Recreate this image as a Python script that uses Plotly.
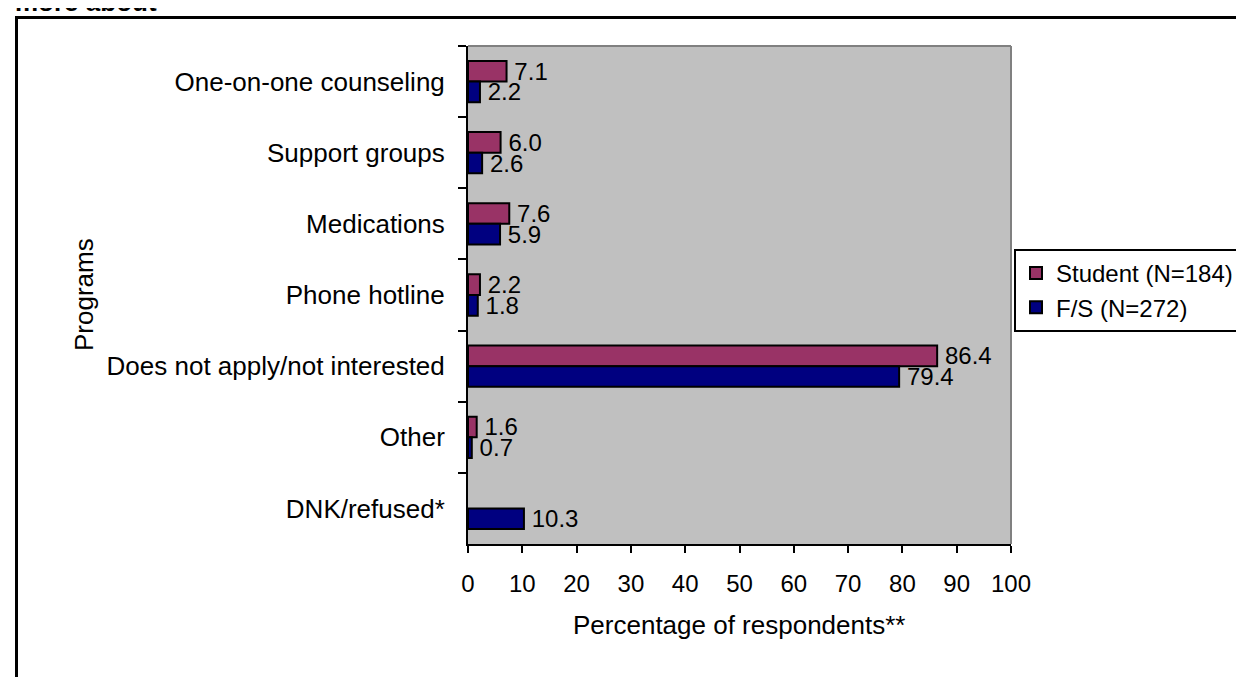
import plotly.graph_objects as go

categories = ["One-on-one counseling", "Support groups", "Medications", "Phone hotline",
              "Does not apply/not interested", "Other", "DNK/refused*"]
student = [7.1, 6.0, 7.6, 2.2, 86.4, 1.6, None]
fs = [2.2, 2.6, 5.9, 1.8, 79.4, 0.7, 10.3]
x_ticks = [0, 10, 20, 30, 40, 50, 60, 70, 80, 90, 100]

FONT = "Liberation Sans, Arial, sans-serif"
W, H = 1244, 677
L, R, T, B = 460, 1003, 38, 536

def px(x):
    return (x - L) / (R - L)

def py(y):
    return (B - y) / (B - T)

fig = go.Figure()
fig.add_trace(go.Bar(
    y=categories, x=student, orientation="h", name="Student (N=184)",
    marker=dict(color="#993366", line=dict(color="black", width=2)),
    texttemplate="\u2009%{x:.1f}", textposition="outside", cliponaxis=False,
    constraintext="none",
    textfont=dict(family=FONT, size=24, color="black"),
))
fig.add_trace(go.Bar(
    y=categories, x=fs, orientation="h", name="F/S (N=272)",
    marker=dict(color="#000080", line=dict(color="black", width=2)),
    texttemplate="\u2009%{x:.1f}", textposition="outside", cliponaxis=False,
    constraintext="none",
    textfont=dict(family=FONT, size=24, color="black"),
))

fig.update_layout(
    width=W, height=H,
    margin=dict(l=L, r=W - R, t=T, b=H - B, pad=0, autoexpand=False),
    paper_bgcolor="white", plot_bgcolor="#C0C0C0",
    barmode="group", bargap=0.42, bargroupgap=0,
    font=dict(family=FONT, size=24, color="black"),
    showlegend=True,
    legend=dict(
        x=px(1006), y=py(282.5), xanchor="left", yanchor="middle",
        bgcolor="white", bordercolor="black", borderwidth=2,
        font=dict(family=FONT, size=24, color="black"),
        traceorder="normal", itemwidth=30,
    ),
    xaxis=dict(
        range=[0, 100], tickvals=x_ticks, showgrid=False, zeroline=False,
        showline=True, linecolor="black", linewidth=2,
        ticks="outside", ticklen=7, tickwidth=2, tickcolor="black",
        ticklabelstandoff=10,
        tickfont=dict(family=FONT, size=24, color="black"),
    ),
    yaxis=dict(
        autorange="reversed", showgrid=False, zeroline=False,
        showline=True, linecolor="black", linewidth=2,
        ticks="outside", ticklen=8, tickwidth=2, tickcolor="black",
        tickson="boundaries", ticklabelstandoff=16,
        tickfont=dict(family=FONT, size=26, color="black"),
    ),
    shapes=[
        dict(type="line", xref="paper", yref="paper", x0=0, x1=1, y0=1, y1=1,
             line=dict(color="#808080", width=2)),
        dict(type="line", xref="paper", yref="paper", x0=1, x1=1, y0=0, y1=1,
             line=dict(color="#808080", width=2)),
        dict(type="rect", xref="paper", yref="paper",
             x0=px(8.5), x1=px(1300), y0=py(700), y1=py(9.5),
             line=dict(color="black", width=3), fillcolor="rgba(0,0,0,0)", layer="below"),
    ],
    annotations=[
        dict(text="Percentage of respondents**", xref="paper", yref="paper",
             x=px(731), y=py(617), xanchor="center", yanchor="middle", showarrow=False,
             font=dict(family=FONT, size=26, color="black")),
        dict(text="Programs", xref="paper", yref="paper", textangle=-90,
             x=px(76), y=py(287), xanchor="center", yanchor="middle", showarrow=False,
             font=dict(family=FONT, size=26, color="black")),
        dict(text="<b>more about</b>", xref="paper", yref="paper",
             x=px(5), y=py(11), xanchor="left", yanchor="bottom", showarrow=False,
             font=dict(family=FONT, size=26, color="black")),
    ],
)

fig.write_html("out.html")
